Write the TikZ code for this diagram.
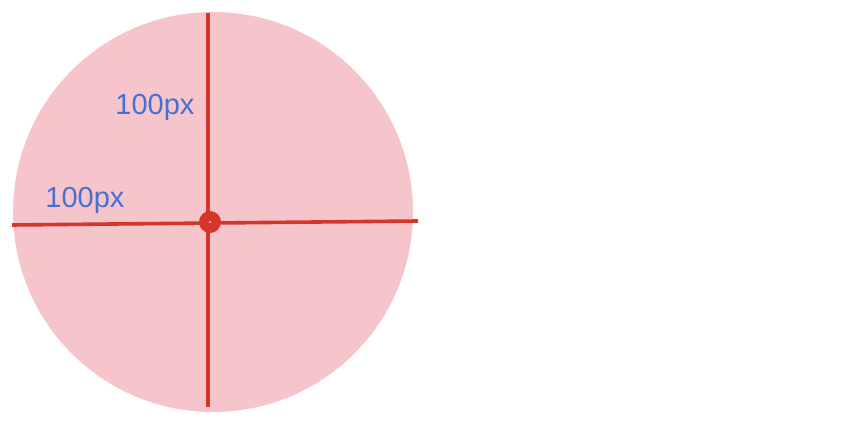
\documentclass[tikz,border=0pt]{standalone}
\usepackage{fontspec}
\setmainfont{Liberation Sans}
\definecolor{discpink}{RGB}{246,196,203}
\definecolor{axisred}{RGB}{212,54,44}
\definecolor{labelblue}{RGB}{70,112,212}
\usepackage{tikz}
\usetikzlibrary{positioning}

\begin{document}
\begin{tikzpicture}[
  x=1pt, y=-1pt,
  disc/.style={fill=discpink, draw=none},
  axis/.style={draw=axisred, line width=3.6pt},
  dim/.style={text=labelblue, font=\fontsize{29}{29}\selectfont, inner sep=0pt, anchor=base},
]
\useasboundingbox (0,0) rectangle (852,438);
\fill[disc] (213,212) circle (200);

\coordinate (top) at (208,13);
\coordinate (bottom) at (208,407);
\coordinate (left) at (12,225);
\coordinate (right) at (418,221);
\coordinate (centre) at (210,222);

\draw[axis] (top) -- (bottom);
\draw[axis] (left) -- (right);
\fill[axisred] (centre) circle (11);
\fill[white] (centre) circle (0.8);

\node[dim] (radiusv) at (155,115) {100px};
\node[dim] (radiush) at (85,208) {100px};
\end{tikzpicture}
\end{document}
